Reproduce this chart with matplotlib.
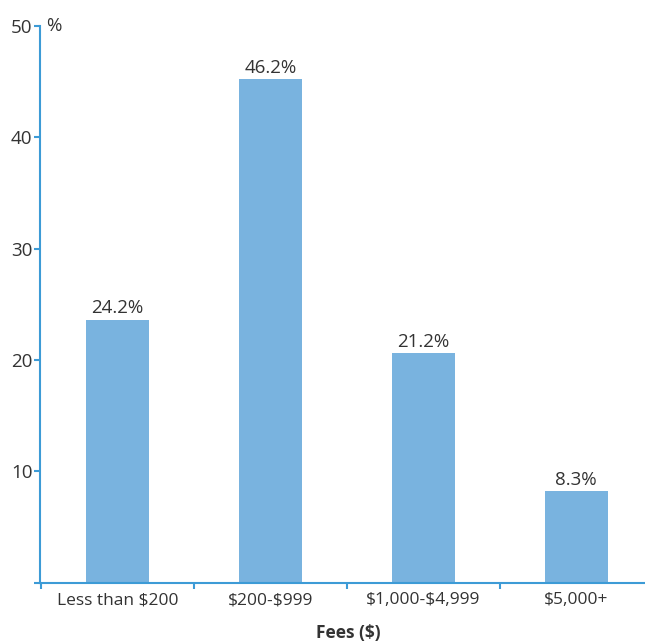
import matplotlib
matplotlib.use('Agg')
import matplotlib.pyplot as plt
import numpy as np

# Fee bands and survey shares
categories = ['Less than $200', '$200-$999', '$1,000-$4,999', '$5,000+']
share_labels = ['24.2%', '46.2%', '21.2%', '8.3%']
bar_heights = [23.6, 45.2, 20.6, 8.2]   # as drawn in the source
y_ticks = [10, 20, 30, 40, 50]

bar_color = '#79b3df'
axis_color = '#3d9bd6'
text_color = '#333333'

plt.rcParams['font.family'] = ['Open Sans', 'DejaVu Sans']
plt.rcParams['text.parse_math'] = False

W, H = 645, 644
fig = plt.figure(figsize=(W / 100, H / 100), dpi=100)
ax = fig.add_axes([40 / W, (H - 582.7) / H, 605 / W, 556.7 / H])

x = np.arange(len(categories))
ax.bar(x, bar_heights, width=0.41, color=bar_color, zorder=2)

for xi, h, lab in zip(x, bar_heights, share_labels):
    ax.annotate(lab, (xi, h), xytext=(0, 2), textcoords='offset points',
                ha='center', va='bottom', fontsize=13.5, color=text_color)

ax.set_xlim(-0.505, 3.449)
ax.set_ylim(0, 50)

# y axis
ax.set_yticks([0] + y_ticks)
ax.set_yticklabels([''] + [str(t) for t in y_ticks])
# x axis: labels at centres, tick marks at band boundaries
ax.set_xticks(x)
ax.set_xticklabels(categories)
ax.set_xticks([-0.5, 0.5, 1.5, 2.5], minor=True)
ax.tick_params(axis='x', which='major', length=0, pad=7,
               labelsize=12.5, labelcolor=text_color)
ax.tick_params(axis='x', which='minor', length=4, width=1.5,
               color=axis_color, direction='out')
ax.tick_params(axis='y', length=4, width=1.5, color=axis_color,
               labelsize=13.5, labelcolor=text_color, pad=1.5)

for side in ['top', 'right']:
    ax.spines[side].set_visible(False)
for side in ['left', 'bottom']:
    ax.spines[side].set_color(axis_color)
    ax.spines[side].set_linewidth(1.5)

ax.text(0.01, 1.0, '%', transform=ax.transAxes, ha='left', va='center',
        fontsize=13.5, color=text_color)
fig.text(348 / W, 1 - 633 / H, 'Fees ($)', ha='center', va='center',
         fontsize=12.5, fontweight='bold', color=text_color)

fig.savefig('out.png', dpi=100)
